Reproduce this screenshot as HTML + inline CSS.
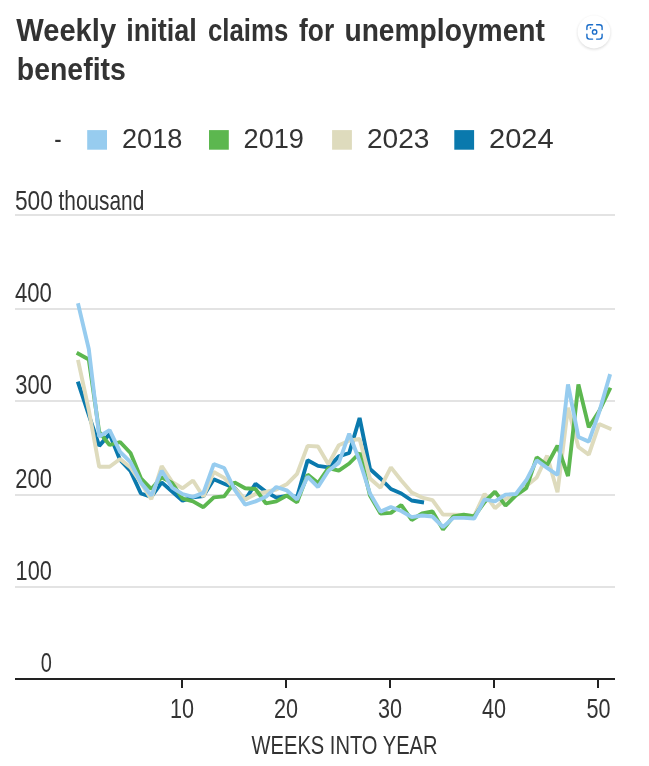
<!DOCTYPE html>
<html lang="en"><head><meta charset="utf-8"><title>Weekly initial claims for unemployment benefits</title>
<style>
html,body{margin:0;padding:0;background:#fff;}
body{width:649px;height:766px;overflow:hidden;font-family:"Liberation Sans",sans-serif;}
svg{display:block;font-family:"Liberation Sans",sans-serif;}
</style></head><body>
<svg width="649" height="766" viewBox="0 0 649 766">
<rect x="15" y="214" width="600" height="2" fill="#e3e3e3"/>
<rect x="15" y="308" width="600" height="2" fill="#e3e3e3"/>
<rect x="15" y="400" width="600" height="2" fill="#e3e3e3"/>
<rect x="15" y="494" width="600" height="2" fill="#e3e3e3"/>
<rect x="15" y="586" width="600" height="2" fill="#e3e3e3"/>
<path d="M78.4,383.4 L88.8,415.0 L99.2,445.9 L109.6,434.0 L120.1,460.0 L130.5,471.0 L140.9,493.5 L151.3,496.8 L161.7,482.4 L172.1,491.5 L182.6,500.7 L193.0,497.4 L203.4,496.0 L213.8,479.2 L224.2,483.7 L234.6,488.0 L245.1,500.0 L255.5,483.7 L265.9,491.8 L276.3,497.6 L286.7,495.8 L297.1,497.0 L307.6,460.3 L318.0,465.9 L328.4,467.4 L338.8,456.3 L349.2,453.0 L359.6,418.0 L370.0,469.0 L380.5,478.5 L390.9,489.0 L401.3,493.5 L411.7,500.5 L422.1,502.2" fill="none" stroke="#0a79ad" stroke-width="3.9" stroke-linejoin="bevel" stroke-linecap="square"/>
<path d="M78.4,361.8 L88.8,410.0 L99.2,466.8 L109.6,466.8 L120.1,459.0 L130.5,467.5 L140.9,483.0 L151.3,499.2 L161.7,466.0 L172.1,481.8 L182.6,488.3 L193.0,480.5 L203.4,496.8 L213.8,472.0 L224.2,477.9 L234.6,488.3 L245.1,499.4 L255.5,494.0 L265.9,492.0 L276.3,489.5 L286.7,484.3 L297.1,473.8 L307.6,445.9 L318.0,446.5 L328.4,464.2 L338.8,445.2 L349.2,440.7 L359.6,439.0 L370.0,478.5 L380.5,487.7 L390.9,467.4 L401.3,480.5 L411.7,492.5 L422.1,497.6 L432.5,500.2 L443.0,514.6 L453.4,514.6 L463.8,515.0 L474.2,516.0 L484.6,493.8 L495.0,508.2 L505.5,499.0 L515.9,494.6 L526.3,486.0 L536.7,477.5 L547.1,455.7 L557.5,492.2 L568.0,407.7 L578.4,447.0 L588.8,454.6 L599.2,424.0 L609.6,428.5" fill="none" stroke="#dedbbd" stroke-width="3.9" stroke-linejoin="bevel" stroke-linecap="square"/>
<path d="M78.4,353.7 L88.8,359.5 L99.2,432.0 L109.6,445.0 L120.1,442.0 L130.5,453.0 L140.9,478.3 L151.3,489.0 L161.7,477.3 L172.1,483.0 L182.6,498.7 L193.0,501.4 L203.4,507.2 L213.8,497.4 L224.2,496.4 L234.6,482.4 L245.1,488.3 L255.5,489.0 L265.9,503.3 L276.3,501.4 L286.7,495.5 L297.1,502.3 L307.6,474.6 L318.0,483.0 L328.4,468.0 L338.8,470.7 L349.2,463.5 L359.6,453.0 L370.0,495.5 L380.5,513.5 L390.9,512.9 L401.3,505.0 L411.7,520.0 L422.1,513.5 L432.5,511.5 L443.0,529.5 L453.4,516.5 L463.8,514.6 L474.2,516.5 L484.6,502.0 L495.0,491.6 L505.5,505.7 L515.9,495.3 L526.3,488.1 L536.7,457.3 L547.1,465.0 L557.5,445.6 L568.0,476.1 L578.4,384.4 L588.8,427.2 L599.2,411.0 L609.6,389.5" fill="none" stroke="#5cb74f" stroke-width="3.9" stroke-linejoin="bevel" stroke-linecap="square"/>
<path d="M78.4,305.1 L88.8,349.0 L99.2,436.5 L109.6,430.2 L120.1,451.8 L130.5,462.2 L140.9,482.5 L151.3,495.5 L161.7,470.7 L172.1,487.6 L182.6,494.2 L193.0,496.8 L203.4,492.9 L213.8,464.2 L224.2,468.0 L234.6,489.6 L245.1,504.6 L255.5,501.4 L265.9,496.8 L276.3,487.0 L286.7,490.3 L297.1,499.5 L307.6,476.6 L318.0,487.0 L328.4,470.7 L338.8,462.9 L349.2,433.7 L359.6,461.0 L370.0,493.5 L380.5,511.6 L390.9,507.0 L401.3,511.0 L411.7,517.2 L422.1,515.5 L432.5,516.5 L443.0,527.0 L453.4,517.9 L463.8,517.9 L474.2,518.5 L484.6,499.4 L495.0,501.3 L505.5,494.6 L515.9,494.0 L526.3,480.3 L536.7,460.3 L547.1,467.9 L557.5,475.0 L568.0,384.4 L578.4,437.0 L588.8,441.6 L599.2,412.0 L609.6,376.0" fill="none" stroke="#97ccef" stroke-width="3.9" stroke-linejoin="bevel" stroke-linecap="square"/>
<rect x="15" y="678" width="600" height="2" fill="#222"/>
<rect x="181" y="678" width="2" height="10" fill="#222"/>
<rect x="285" y="678" width="2" height="10" fill="#222"/>
<rect x="389" y="678" width="2" height="10" fill="#222"/>
<rect x="493" y="678" width="2" height="10" fill="#222"/>
<rect x="597" y="678" width="2" height="10" fill="#222"/>
<text transform="translate(14.90,210) scale(0.8335,1)" font-size="27.3" font-weight="normal" fill="#333">500</text>
<text transform="translate(58.50,210) scale(0.7638,1)" font-size="27.3" font-weight="normal" fill="#333">thousand</text>
<text transform="translate(14.90,302) scale(0.8116,1)" font-size="27.3" font-weight="normal" fill="#333">400</text>
<text transform="translate(15.20,394) scale(0.8050,1)" font-size="27.3" font-weight="normal" fill="#333">300</text>
<text transform="translate(15.20,488) scale(0.8050,1)" font-size="27.3" font-weight="normal" fill="#333">200</text>
<text transform="translate(15.60,580) scale(0.7962,1)" font-size="27.3" font-weight="normal" fill="#333">100</text>
<text transform="translate(40.80,672) scale(0.7326,1)" font-size="27.3" font-weight="normal" fill="#333">0</text>
<text transform="translate(170.00,717.5) scale(0.7949,1)" font-size="27.2" font-weight="normal" fill="#333">10</text>
<text transform="translate(274.00,717.5) scale(0.7949,1)" font-size="27.2" font-weight="normal" fill="#333">20</text>
<text transform="translate(378.00,717.5) scale(0.7949,1)" font-size="27.2" font-weight="normal" fill="#333">30</text>
<text transform="translate(482.00,717.5) scale(0.7949,1)" font-size="27.2" font-weight="normal" fill="#333">40</text>
<text transform="translate(586.60,717.5) scale(0.7949,1)" font-size="27.2" font-weight="normal" fill="#333">50</text>
<text transform="translate(251.60,754.3) scale(0.7859,1)" font-size="25.6" font-weight="normal" fill="#333">WEEKS INTO YEAR</text>
<text transform="translate(16.20,40.7) scale(0.9405,1)" font-size="31" font-weight="bold" fill="#333">Weekly</text>
<text transform="translate(126.20,40.7) scale(0.8713,1)" font-size="31" font-weight="bold" fill="#333">initial</text>
<text transform="translate(208.00,40.7) scale(0.8326,1)" font-size="31" font-weight="bold" fill="#333">claims</text>
<text transform="translate(299.10,40.7) scale(0.8481,1)" font-size="31" font-weight="bold" fill="#333">for</text>
<text transform="translate(344.40,40.7) scale(0.9101,1)" font-size="31" font-weight="bold" fill="#333">unemployment</text>
<text transform="translate(16.80,80.4) scale(0.9177,1)" font-size="31" font-weight="bold" fill="#333">benefits</text>
<text transform="translate(54.20,148) scale(0.8033,1)" font-size="27.5" font-weight="normal" fill="#333">-</text>
<rect x="87.2" y="130.1" width="19.8" height="19.6" fill="#97ccef"/>
<text transform="translate(122.00,148) scale(0.9695,1)" font-size="28" font-weight="normal" fill="#333">2018</text>
<rect x="209.0" y="130.1" width="19.8" height="19.6" fill="#5cb74f"/>
<text transform="translate(243.60,148) scale(0.9695,1)" font-size="28" font-weight="normal" fill="#333">2019</text>
<rect x="332.1" y="130.1" width="19.8" height="19.6" fill="#dedbbd"/>
<text transform="translate(366.90,148) scale(1.0032,1)" font-size="28" font-weight="normal" fill="#333">2023</text>
<rect x="454.3" y="130.1" width="19.8" height="19.6" fill="#0a79ad"/>
<text transform="translate(489.00,148) scale(1.0385,1)" font-size="28" font-weight="normal" fill="#333">2024</text>
<g>
<defs><filter id="sh" x="-50%" y="-50%" width="200%" height="200%"><feGaussianBlur stdDeviation="1.6"/></filter></defs>
<circle cx="594" cy="33" r="16.2" fill="#000" opacity="0.16" filter="url(#sh)"/>
<circle cx="594" cy="32" r="16.4" fill="#fff"/>
<g fill="none" stroke="#1a6dc9" stroke-width="1.4" stroke-linecap="round">
<path d="M586.9,29.6 V27.2 a2.5,2.5 0 0 1 2.5,-2.5 H592.6"/>
<path d="M596.6,24.7 H599.6 a2.5,2.5 0 0 1 2.5,2.5 V29.6"/>
<path d="M602.1,34.2 V36.6 a2.5,2.5 0 0 1 -2.5,2.5 H596.6"/>
<path d="M592.6,39.1 H589.4 a2.5,2.5 0 0 1 -2.5,-2.5 V34.2"/>
<circle cx="594.6" cy="31.9" r="2.2"/>
</g>
<circle cx="590.5" cy="27.9" r="0.8" fill="#1a6dc9"/>
</g>
</svg>
</body></html>
